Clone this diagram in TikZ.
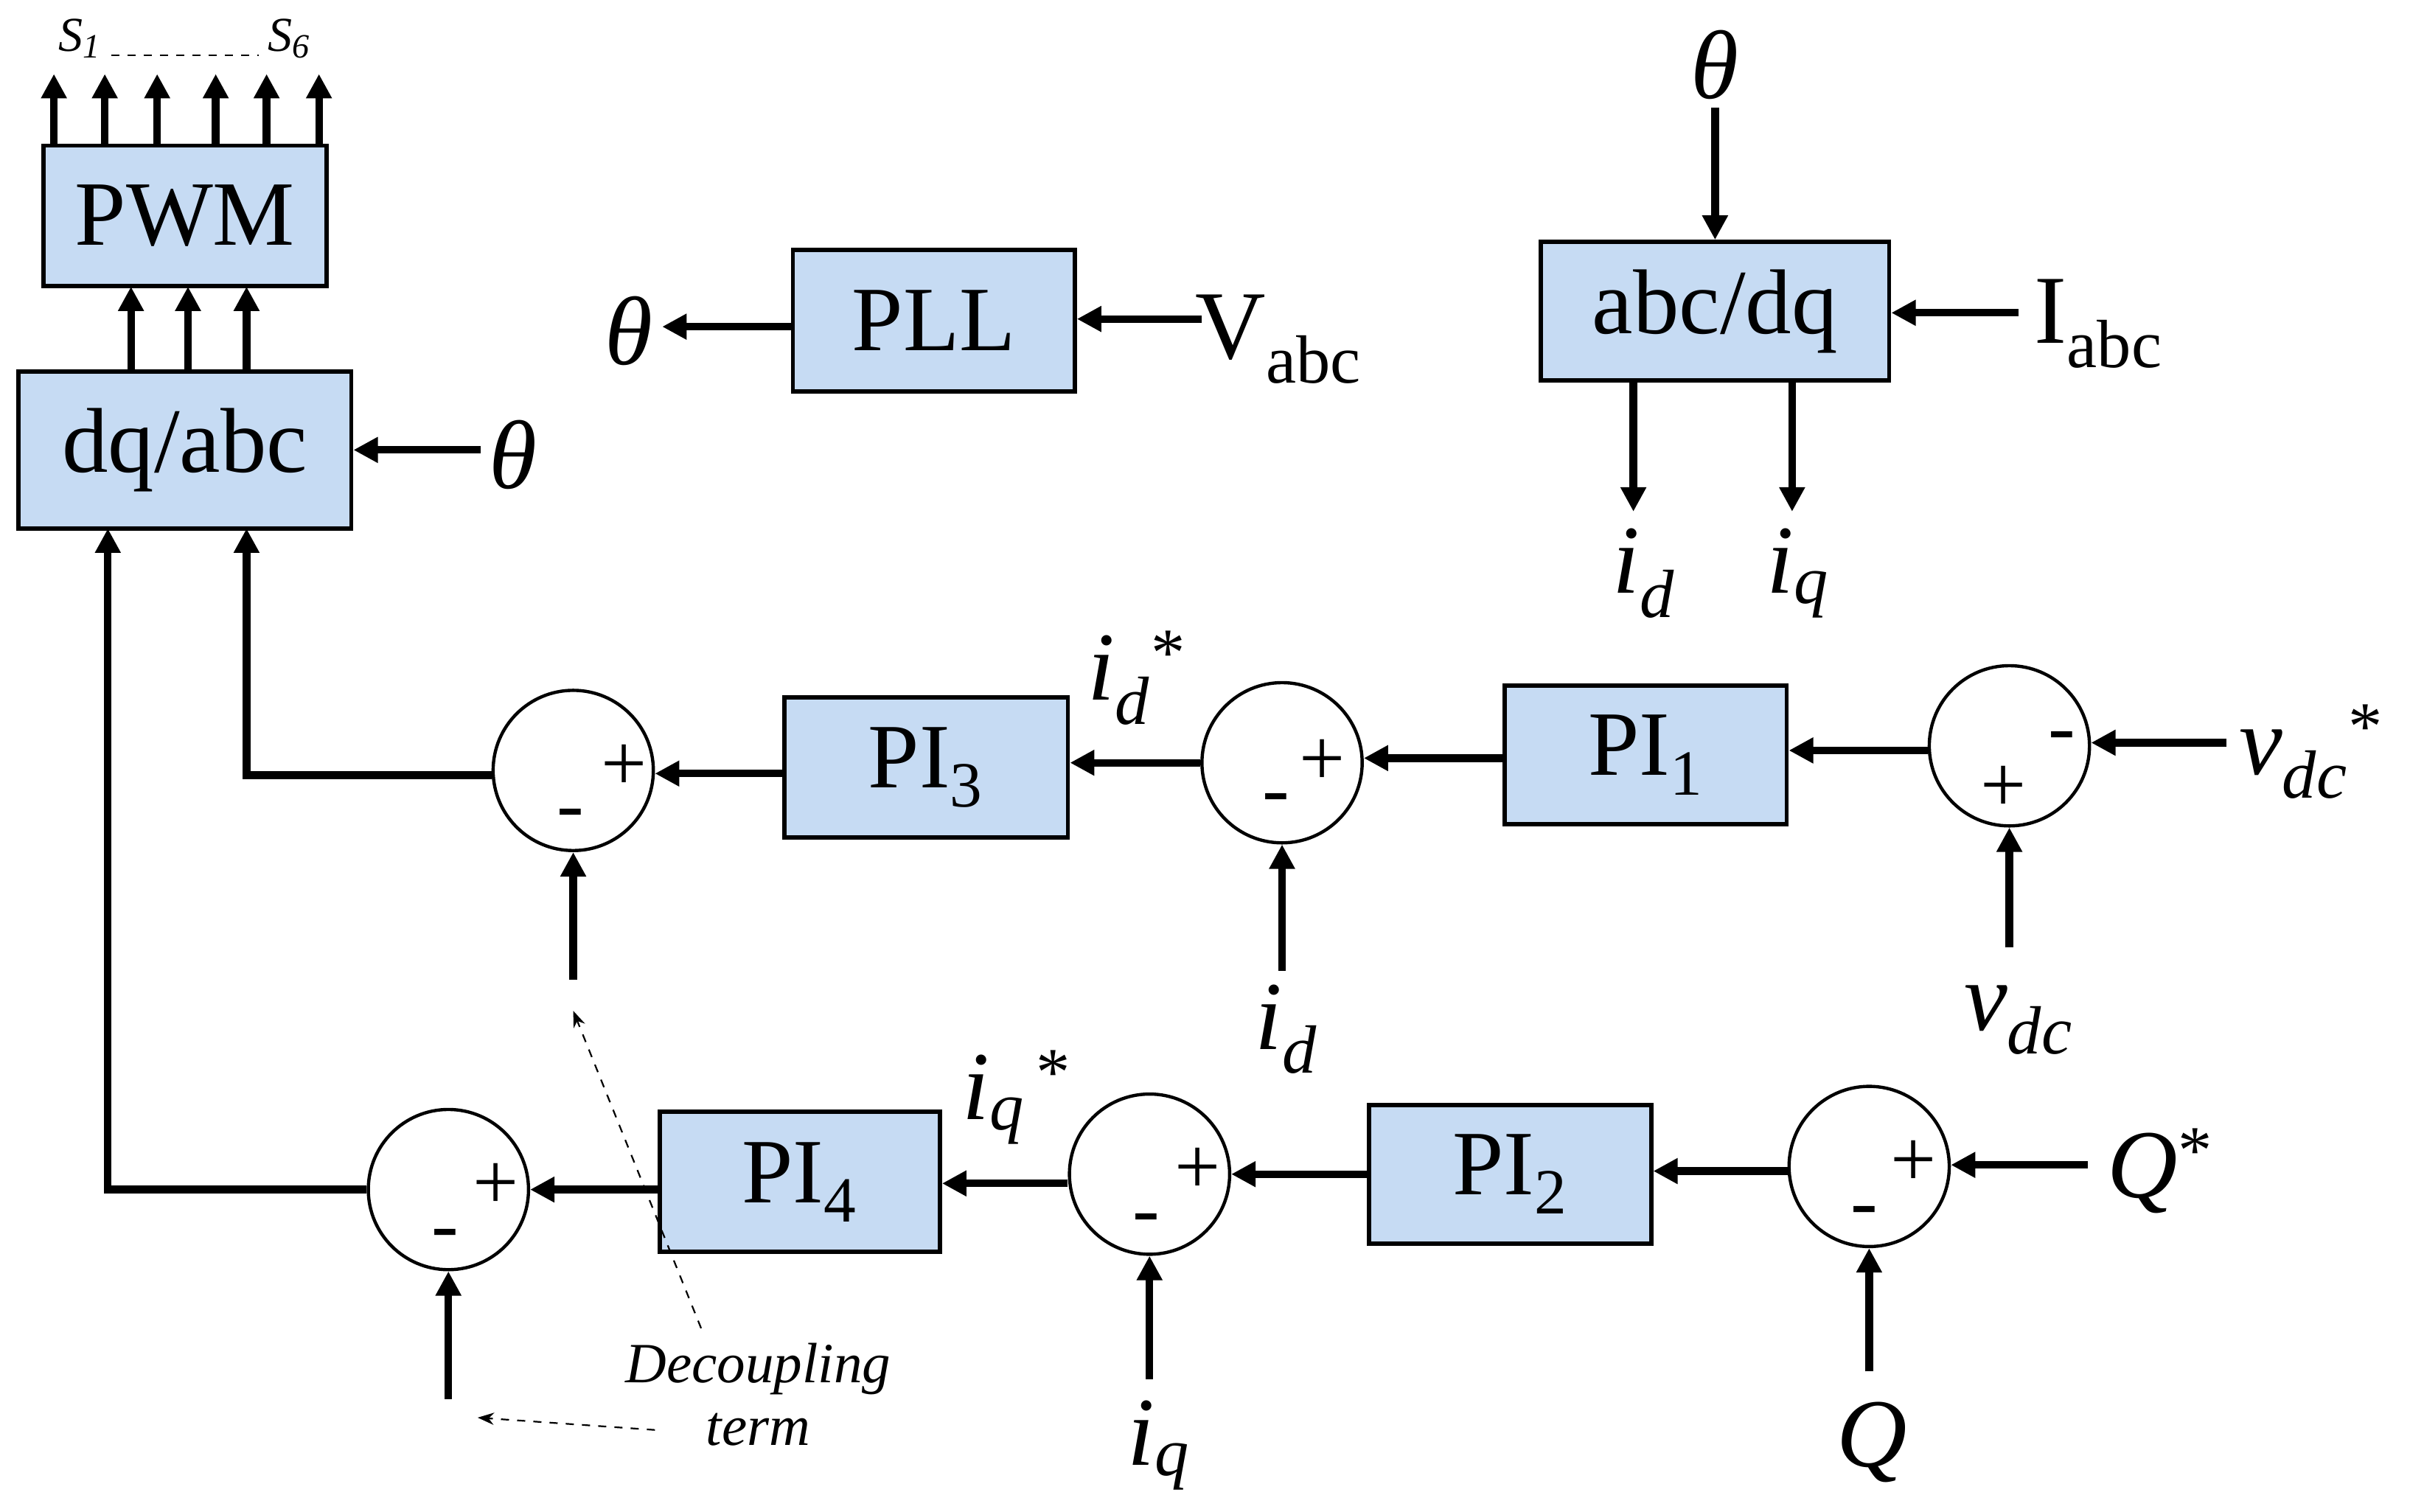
\documentclass[tikz,border=0pt]{standalone}
\usepackage{fontspec}
\setmainfont{Liberation Serif}
\usetikzlibrary{arrows.meta}
\definecolor{bfill}{HTML}{C6DBF3}
\newcommand{\ilab}[2]{\textit{#1}\textsubscript{\textit{#2}}}
\begin{document}
\begin{tikzpicture}[x=0.02cm,y=-0.02cm,
 blk/.style={draw,line width=1.6pt,fill=bfill,minimum width=#1,inner sep=0pt,font=\fontsize{34}{38}\selectfont},
 sum/.style={draw,circle,line width=1.2pt,minimum size=2.08cm,inner sep=0pt},
 ar/.style={line width=2.8pt,-{Triangle[length=9pt,width=9pt]}},
 sg/.style={font=\fontsize{30}{32}\selectfont},
 lb/.style={font=\fontsize{36}{40}\selectfont}]
\useasboundingbox (0,0) rectangle (1564,981);
% blocks
\node[blk,minimum width=3.68cm,minimum height=1.82cm] (pwm) at (120,140) {PWM};
\node[blk,minimum width=4.32cm,minimum height=2.04cm] (dqabc) at (120,292) {dq/abc};
\node[blk,minimum width=3.66cm,minimum height=1.84cm] (pll) at (606,208) {PLL};
\node[blk,minimum width=4.52cm,minimum height=1.80cm] (abcdq) at (1113,202) {abc/dq};
\node[blk,minimum width=3.66cm,minimum height=1.80cm] (pi1) at (1068,490) {PI\textsubscript{1}};
\node[blk,minimum width=3.68cm,minimum height=1.82cm] (pi3) at (601,498) {PI\textsubscript{3}};
\node[blk,minimum width=3.66cm,minimum height=1.80cm] (pi2) at (980,762) {PI\textsubscript{2}};
\node[blk,minimum width=3.64cm,minimum height=1.82cm] (pi4) at (519,767) {PI\textsubscript{4}};
% sums
\node[sum] (s1) at (1304,484) {};
\node[sum] (s2) at (832,495) {};
\node[sum] (s3) at (372,500) {};
\node[sum] (s4) at (1213,757) {};
\node[sum] (s5) at (746,762) {};
\node[sum] (s6) at (291,772) {};
\foreach \s/\px/\py/\mx/\my in {s2/858/495/828/522, s3/405/498/370/532, s4/1242/755/1210/790, s5/777/760/744/795, s6/322/770/289/805}{
 \node[sg] at (\px,\py) {+}; \node[sg] at (\mx,\my) {-};}
\node[sg] at (1338,482) {-}; \node[sg] at (1300,512) {+};
% labels
\node[lb] (vdcs) at (1500,488) {\ilab{v}{dc}\textsuperscript{*}};
\node[lb] (vdc) at (1310,662) {\ilab{v}{dc}};
\node[lb] (id1) at (835,668) {\ilab{i}{d}};
\node[lb] (ids) at (738,440) {\ilab{i}{d}\textsuperscript{*}};
\node[lb] (Qs) at (1402,760) {\textit{Q}\textsuperscript{*}};
\node[lb] (Q) at (1215,936) {\textit{Q}};
\node[lb] (iq1) at (752,938) {\ilab{i}{q}};
\node[lb] (iqs) at (660,712) {\ilab{i}{q}\textsuperscript{\,*}};
\node[lb] (th1) at (333,295) {\textit{θ}};
\node[lb] (th2) at (408,215) {\textit{θ}};
\node[lb] (th3) at (1113,42) {\textit{θ}};
\node[lb] (vabc) at (830,220) {V\textsubscript{abc}};
\node[lb] (iabc) at (1362,210) {I\textsubscript{abc}};
\node[lb] (id2) at (1067,372) {\ilab{i}{d}};
\node[lb] (iq2) at (1167,372) {\ilab{i}{q}};
\node[font=\fontsize{21}{23}\selectfont\itshape,align=center] (dec) at (492,905) {Decoupling\\term};
\node[font=\fontsize{18}{20}\selectfont\itshape] (S1) at (52,25) {S\textsubscript{1}};
\node[font=\fontsize{18}{20}\selectfont\itshape] (S6) at (188,25) {S\textsubscript{6}};
\draw[dashed,line width=0.6pt] (S1.east|-0,36) -- (S6.west|-0,36);
% coordinates
\coordinate (c1) at (1445,482); \coordinate (c2) at (1304,615);
\coordinate (c3) at (832,630); \coordinate (c4) at (372,636);
\coordinate (c5) at (1355,756); \coordinate (c6) at (1213,890);
\coordinate (c7) at (746,895); \coordinate (c8) at (291,908);
\coordinate (c9) at (312,292); \coordinate (c10) at (780,207);
\coordinate (c11) at (1113,70); \coordinate (c12) at (1310,203);
% connectors
\draw[ar] (c1) -- (s1.east|-c1);
\draw[ar] (c2) -- (s1.south);
\draw[ar] (s1.west|-0,487) -- (pi1.east|-0,487);
\draw[ar] (pi1.west|-0,492) -- (s2.east|-0,492);
\draw[ar] (c3) -- (s2.south);
\draw[ar] (s2.west|-0,495) -- (pi3.east|-0,495);
\draw[ar] (pi3.west|-0,502) -- (s3.east|-0,502);
\draw[ar] (c4) -- (s3.south);
\draw[ar] (s3.west|-0,503) -- (160,503) -- (160,343);
\draw[ar] (c5) -- (s4.east|-c5);
\draw[ar] (c6) -- (s4.south);
\draw[ar] (s4.west|-0,760) -- (pi2.east|-0,760);
\draw[ar] (pi2.west|-0,762) -- (s5.east|-0,762);
\draw[ar] (c7) -- (s5.south);
\draw[ar] (s5.west|-0,768) -- (pi4.east|-0,768);
\draw[ar] (pi4.west|-0,772) -- (s6.east|-0,772);
\draw[ar] (c8) -- (s6.south);
\draw[ar] (s6.west|-0,772) -- (70,772) -- (70,343);
\draw[ar] (c9) -- (dqabc.east|-c9);
\draw[ar] (c10) -- (pll.east|-c10);
\draw[ar] (pll.west|-0,212) -- (th2.east|-0,212);
\draw[ar] (c11) -- (abcdq.north);
\draw[ar] (c12) -- (abcdq.east|-c12);
\draw[ar] (1060,247) -- (1060,332);
\draw[ar] (1163,247) -- (1163,332);
\foreach \x in {85,122,160} \draw[ar] (\x,241) -- (\x,186);
\foreach \x in {35,68,102,140,173,207} \draw[ar] (\x,95) -- (\x,48);
\draw[dashed,line width=0.6pt,-{Stealth[length=6pt]}] (455,862) -- (372,656);
\draw[dashed,line width=0.6pt,-{Stealth[length=6pt]}] (425,928) -- (310,920);
\end{tikzpicture}
\end{document}
